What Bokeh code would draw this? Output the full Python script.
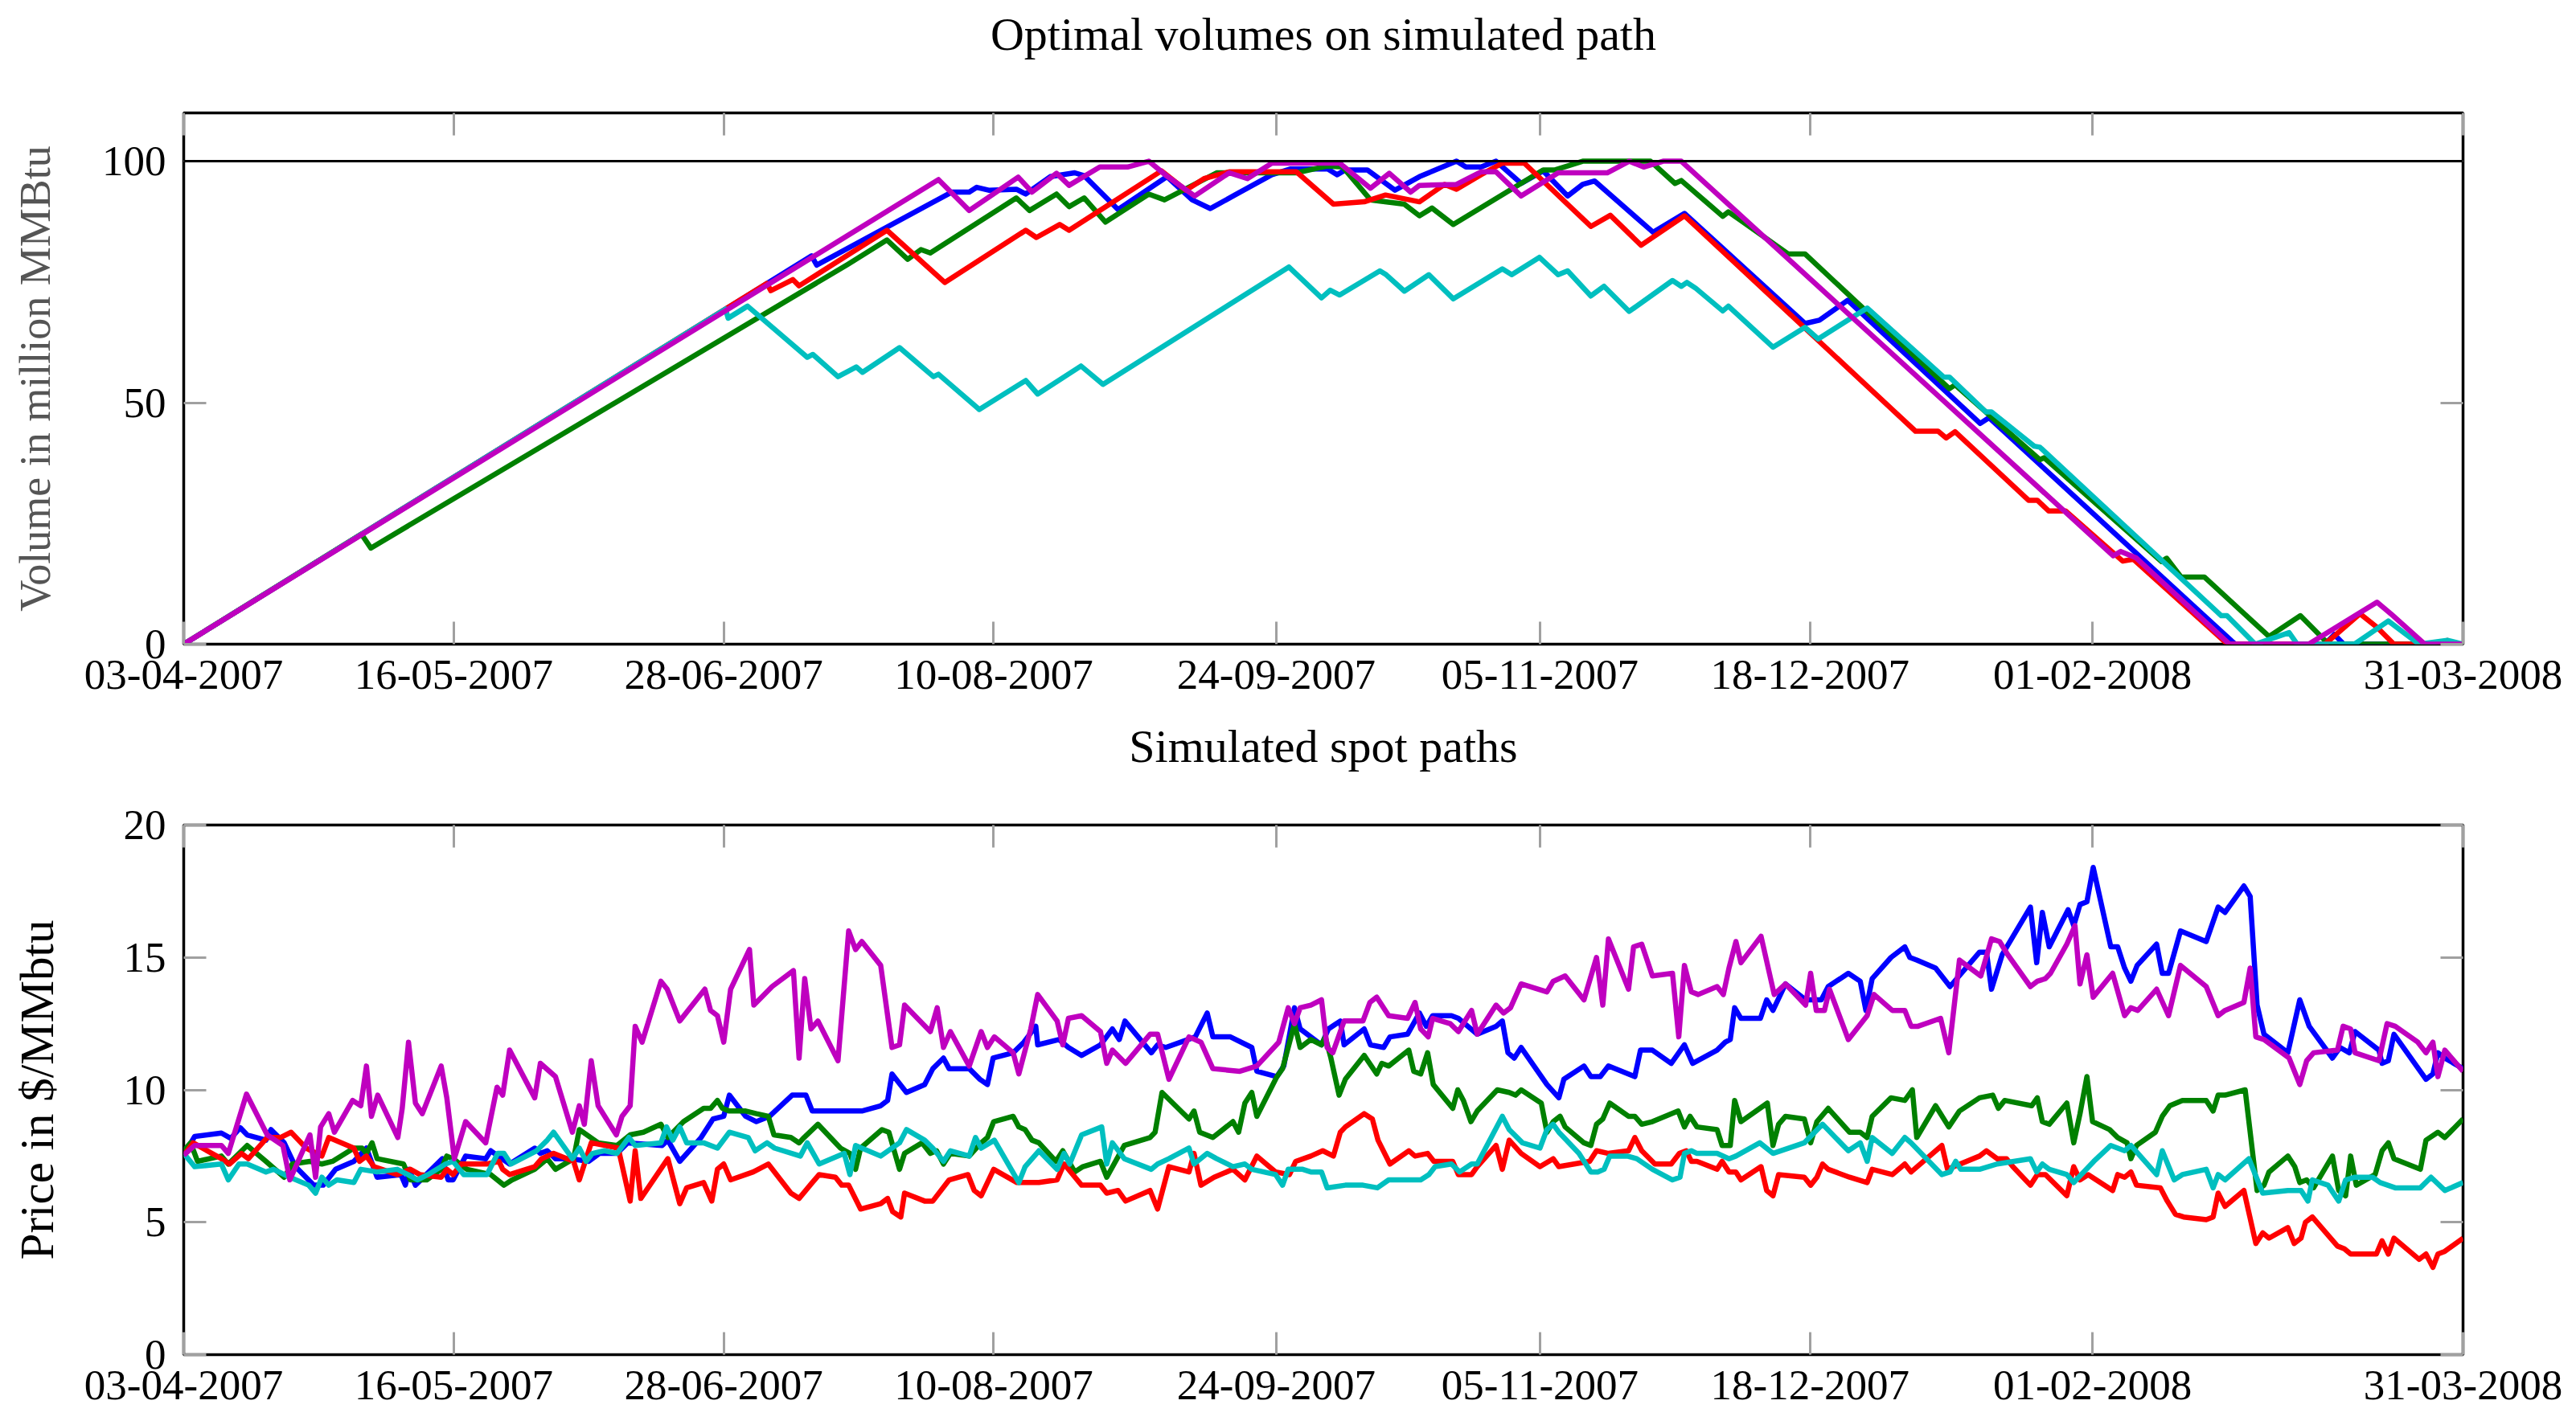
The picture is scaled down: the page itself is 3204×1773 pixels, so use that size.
import datetime as dt
from bokeh.plotting import figure
from bokeh.layouts import column
from bokeh.models import (FixedTicker, DatetimeTickFormatter, Range1d, Span, DatetimeAxis, LinearAxis,
                          CustomLabelingPolicy)
from bokeh.embed import file_html
from bokeh.resources import INLINE

# ---------------- data ----------------
START = dt.datetime(2007, 4, 3)
END = dt.datetime(2008, 3, 31)
x_tick_labels = ["03-04-2007", "16-05-2007", "28-06-2007", "10-08-2007", "24-09-2007",
                 "05-11-2007", "18-12-2007", "01-02-2008", "31-03-2008"]
vol_ticks = [0, 50, 100]
price_ticks = [0, 5, 10, 15, 20]
capacity = 100

# (days since 03-04-2007, volume in million MMBtu)
vol_blue = [(0, 0), (100.0, 80.4), (100.8, 78.5), (122.3, 93.6), (125.1, 93.6), (126.3, 94.6), (128.2, 94.0),
            (132.6, 94.2), (134.1, 93.2), (138.0, 96.8), (141.9, 97.6), (143.4, 97.0), (148.8, 90.0), (156.6, 96.8),
            (160.6, 92.0), (163.5, 90.2), (167.4, 93.0), (173.3, 97.2), (176.3, 98.4), (182.2, 98.4), (183.7, 97.2),
            (185.0, 98.2), (188.5, 98.2), (192.9, 94.0), (196.8, 96.8), (202.7, 100.0), (204.2, 98.8), (206.6, 98.8),
            (209.0, 100.0), (213.0, 95.4), (216.5, 98.0), (220.4, 92.8), (222.8, 95.2), (224.7, 95.9), (234.0, 85.3),
            (239.0, 89.2), (258.2, 66.4), (260.5, 67.1), (265.0, 71.2), (286.1, 45.7), (287.5, 46.9), (326.7, 0),
            (341.0, 0), (342.5, 2.0), (344.0, 0), (363.0, 0)]
vol_green = [(0, 0), (28.3, 22.8), (29.8, 19.9), (105.7, 78.6), (112.0, 83.7), (115.3, 79.7), (117.4, 81.7),
             (118.9, 81.0), (132.6, 92.4), (134.7, 89.8), (139.0, 93.2), (141.0, 90.6), (143.4, 92.4), (146.8, 87.4),
             (153.7, 93.2), (156.2, 92.0), (164.5, 97.6), (177.2, 97.6), (182.1, 99.0), (184.6, 98.8), (189.0, 92.0),
             (194.4, 91.1), (196.8, 88.7), (198.8, 90.3), (202.2, 86.9), (216.5, 98.2), (218.4, 98.2), (222.8, 100.0),
             (233.6, 100.0), (237.5, 95.4), (238.5, 96.0), (245.1, 88.6), (246.0, 89.5), (247.8, 87.9), (255.5, 80.8),
             (258.2, 80.8), (281.2, 52.9), (282.1, 53.7), (295.6, 38.2), (296.3, 38.6), (315.0, 17.1), (315.8, 17.8),
             (318.1, 13.9), (321.8, 13.9), (332.1, 1.6), (337.1, 5.9), (341.6, 0), (363.0, 0)]
vol_red = [(0, 0), (92.9, 74.7), (93.5, 73.2), (97.0, 75.5), (98.0, 74.2), (112.0, 85.7), (121.2, 74.9),
           (134.1, 85.7), (135.8, 84.2), (139.5, 86.9), (141.0, 85.7), (155.7, 98.0), (159.6, 94.0), (162.5, 96.4),
           (166.5, 97.8), (177.2, 97.8), (183.1, 91.1), (188.0, 91.6), (191.4, 93.0), (196.8, 91.6), (200.8, 95.2),
           (202.7, 94.2), (206.6, 97.2), (210.0, 99.6), (213.5, 99.6), (224.1, 86.5), (227.2, 88.8), (232.1, 82.6),
           (239.0, 88.7), (275.8, 44.1), (279.4, 44.1), (280.7, 42.7), (282.1, 44.0), (293.8, 29.8), (295.2, 29.8),
           (297.0, 27.6), (299.7, 27.6), (308.8, 17.2), (310.5, 17.6), (325.5, 0), (341.0, 0), (346.6, 6.3),
           (349.3, 3.5), (352.0, 0), (359.5, 0), (360.5, 0.8), (361.5, 0), (363.0, 0)]
vol_cyan = [(0, 0), (86.3, 69.4), (86.7, 67.5), (89.8, 70.0), (99.3, 59.4), (100.2, 60.0), (104.2, 55.4),
            (107.1, 57.4), (108.1, 56.3), (114.0, 61.4), (119.4, 55.4), (120.2, 55.9), (126.7, 48.6), (134.1, 54.6),
            (136.0, 51.8), (142.9, 57.6), (146.4, 53.8), (176.0, 78.1), (181.2, 71.7), (182.6, 73.3), (184.1, 72.3),
            (190.5, 77.3), (191.5, 76.5), (194.4, 73.1), (198.3, 76.5), (202.2, 71.5), (210.0, 77.7), (211.5, 76.5),
            (215.9, 80.1), (218.9, 76.5), (220.4, 77.3), (224.1, 72.1), (226.2, 74.1), (230.2, 68.9), (237.1, 75.3),
            (238.5, 74.1), (239.4, 74.9), (240.8, 73.7), (245.1, 69.0), (246.0, 70.0), (253.1, 61.5), (258.2, 65.6),
            (260.3, 63.2), (268.1, 69.6), (280.3, 55.3), (281.2, 55.3), (287.0, 48.1), (287.9, 48.1), (294.7, 41.0),
            (295.6, 40.8), (324.5, 5.9), (325.4, 5.9), (329.9, 0), (335.3, 2.4), (336.6, 0), (345.7, 0),
            (351.1, 4.8), (356.0, 0), (360.5, 0.8), (363.0, 0)]
vol_magenta = [(0, 0), (120.2, 96.2), (125.1, 89.8), (132.9, 96.7), (135.1, 93.6), (139.0, 97.5), (141.0, 95.0),
               (145.9, 98.8), (150.3, 98.8), (153.7, 100.0), (156.5, 97.0), (161.0, 92.8), (166.5, 97.6),
               (169.4, 96.4), (173.3, 99.6), (184.1, 99.6), (189.0, 94.4), (192.0, 97.5), (195.4, 93.6),
               (196.8, 95.0), (202.7, 95.2), (206.6, 97.8), (209.0, 97.8), (213.0, 92.8), (218.9, 97.6),
               (226.7, 97.6), (230.2, 100.0), (232.5, 98.8), (235.6, 100.0), (238.5, 100.0), (307.3, 18.3),
               (308.5, 19.2), (310.9, 17.9), (325.8, 0), (338.4, 0), (349.3, 8.7), (351.5, 6.3), (356.9, 0),
               (363.0, 0)]

# (days since 03-04-2007, spot price in $/MMbtu)
spot_blue = [(0, 7.53), (1.75, 8.24), (6.0, 8.37), (7.5, 8.17), (9.0, 8.57), (10.1, 8.3), (13.1, 8.1), (13.9, 8.5),
             (16.0, 8.0), (17.8, 7.1), (20.7, 6.4), (22.2, 6.4), (24.2, 7.0), (27.1, 7.3), (29.1, 7.8), (30.8, 6.7),
             (34.6, 6.8), (35.3, 6.4), (35.9, 7.0), (36.9, 6.4), (41.2, 7.4), (42.1, 6.6), (42.9, 6.6), (44.9, 7.5),
             (48.1, 7.4), (48.9, 7.7), (51.9, 7.2), (55.9, 7.8), (56.8, 7.6), (57.9, 7.7), (59.2, 7.4), (61.7, 7.4),
             (64.5, 7.3), (66.2, 7.6), (69.0, 7.6), (70.7, 8.0), (76.2, 7.9), (77.1, 8.1), (79.0, 7.3), (82.4, 8.2),
             (84.3, 8.9), (86.0, 9.0), (86.9, 9.8), (89.5, 9.0), (91.2, 8.8), (93.3, 9.0), (96.9, 9.8), (99.1, 9.8),
             (100.1, 9.2), (104.0, 9.2), (108.0, 9.2), (111.0, 9.4), (112.1, 9.6), (112.8, 10.6), (115.1, 9.9),
             (118.0, 10.2), (119.3, 10.8), (121.0, 11.2), (121.9, 10.8), (125.1, 10.8), (126.8, 10.4), (128.0, 10.2),
             (128.9, 11.2), (132.1, 11.4), (133.8, 11.8), (135.7, 12.4), (136.0, 11.7), (139.4, 11.9), (140.9, 11.6),
             (143.0, 11.3), (146.0, 11.7), (147.9, 12.3), (149.0, 11.9), (149.9, 12.6), (154.1, 11.4), (155.1, 11.7),
             (156.4, 11.6), (161.1, 12.0), (163.0, 12.9), (163.9, 12.0), (166.7, 12.0), (170.1, 11.6), (170.9, 10.7),
             (174.1, 10.5), (175.2, 10.9), (176.9, 13.1), (177.8, 12.3), (179.5, 12.0), (181.2, 11.7), (182.3, 12.3),
             (184.2, 12.6), (184.8, 11.7), (188.0, 12.3), (189.0, 11.7), (191.1, 11.6), (192.1, 12.0), (194.9, 12.1),
             (196.8, 12.9), (197.9, 12.4), (198.9, 12.8), (201.9, 12.8), (203.0, 12.7), (206.0, 12.1), (209.0, 12.4),
             (210.0, 12.6), (210.9, 11.4), (211.9, 11.2), (213.0, 11.6), (217.1, 10.2), (219.0, 9.7), (219.8, 10.4),
             (223.0, 10.9), (224.1, 10.5), (225.6, 10.5), (226.9, 10.9), (231.1, 10.5), (232.0, 11.5), (233.9, 11.5),
             (236.9, 11.0), (239.0, 11.7), (240.3, 11.0), (244.2, 11.5), (245.5, 11.8), (246.3, 11.9), (247.0, 13.1),
             (248.0, 12.7), (251.1, 12.7), (252.1, 13.4), (253.1, 13.0), (255.1, 14.0), (258.3, 13.4), (260.8, 13.4),
             (261.9, 13.9), (265.1, 14.4), (267.0, 14.1), (267.9, 13.0), (268.9, 14.2), (271.9, 15.0), (274.1, 15.4),
             (274.9, 15.0), (276.0, 14.9), (279.0, 14.6), (281.3, 13.9), (286.0, 15.2), (287.1, 15.2), (287.9, 13.8),
             (289.6, 15.1), (294.1, 16.9), (295.1, 14.8), (296.0, 16.7), (297.1, 15.4), (300.1, 16.8), (301.0, 16.2),
             (302.0, 17.0), (303.1, 17.1), (304.1, 18.4), (306.9, 15.4), (308.0, 15.4), (309.1, 14.6), (310.1, 14.1),
             (311.1, 14.7), (314.2, 15.5), (315.1, 14.4), (316.1, 14.4), (318.0, 16.0), (322.1, 15.6), (324.0, 16.9),
             (325.1, 16.7), (328.1, 17.7), (329.1, 17.3), (330.2, 13.2), (331.3, 12.1), (335.1, 11.4), (337.0, 13.4),
             (338.5, 12.4), (342.2, 11.2), (343.4, 11.6), (344.9, 11.4), (345.8, 12.2), (349.6, 11.5), (350.1, 11.0),
             (351.1, 11.1), (352.0, 12.1), (357.1, 10.4), (358.2, 10.6), (359.0, 11.4), (360.1, 11.2), (363.0, 10.8)]
spot_green = [(0, 7.7), (1.1, 8.0), (2.2, 7.3), (6.0, 7.5), (7.1, 7.2), (10.1, 7.9), (13.1, 7.3), (16.0, 6.7),
              (17.3, 7.2), (20.1, 7.3), (22.0, 7.2), (23.7, 7.3), (27.1, 7.8), (28.4, 7.8), (29.1, 7.6), (30.0, 8.0),
              (30.8, 7.4), (35.0, 7.2), (36.1, 6.6), (38.7, 6.6), (41.0, 7.0), (41.9, 7.5), (42.9, 7.4), (45.1, 7.0),
              (48.9, 6.8), (51.0, 6.4), (52.3, 6.6), (55.9, 7.0), (57.9, 7.4), (59.2, 7.0), (62.1, 7.4), (63.0, 8.5),
              (66.0, 8.0), (69.0, 7.9), (71.1, 8.3), (73.2, 8.4), (76.0, 8.7), (77.1, 8.2), (79.6, 8.8), (82.8, 9.3),
              (83.9, 9.3), (85.0, 9.6), (85.8, 9.3), (86.9, 9.2), (89.5, 9.2), (91.2, 9.1), (93.1, 9.0), (94.0, 8.3),
              (96.7, 8.2), (98.0, 8.0), (98.8, 8.2), (101.0, 8.7), (104.6, 7.8), (106.1, 7.6), (107.0, 7.0),
              (107.8, 7.8), (111.2, 8.5), (112.3, 8.4), (114.0, 7.0), (114.8, 7.6), (117.6, 8.0), (118.9, 7.6),
              (119.9, 7.7), (121.0, 7.2), (122.1, 7.6), (125.1, 7.5), (127.0, 8.0), (128.0, 8.2), (129.0, 8.8),
              (132.1, 9.0), (133.0, 8.6), (134.0, 8.5), (135.1, 8.1), (136.2, 8.0), (138.9, 7.3), (140.0, 7.7),
              (141.9, 6.9), (143.2, 7.1), (146.0, 7.3), (147.0, 6.7), (149.8, 7.9), (153.9, 8.2), (154.7, 8.4),
              (155.8, 9.9), (160.1, 8.9), (160.9, 9.2), (161.8, 8.4), (163.9, 8.2), (167.1, 8.8), (168.0, 8.4),
              (169.0, 9.5), (170.1, 9.9), (170.9, 9.0), (174.1, 10.5), (175.0, 10.8), (176.9, 12.5), (177.8, 11.6),
              (179.5, 11.9), (181.2, 11.7), (181.8, 12.0), (182.7, 11.2), (184.0, 9.8), (185.0, 10.4), (188.0, 11.3),
              (190.0, 10.6), (190.8, 11.0), (191.9, 10.9), (195.1, 11.5), (195.9, 10.7), (197.0, 10.6), (198.1, 11.4),
              (199.0, 10.2), (202.1, 9.3), (202.9, 10.0), (203.8, 9.6), (205.0, 8.8), (206.0, 9.2), (209.2, 10.0),
              (211.1, 9.9), (212.1, 9.8), (213.0, 10.0), (216.2, 9.5), (217.1, 8.4), (218.1, 8.8), (219.2, 9.0),
              (220.0, 8.6), (223.0, 8.0), (224.1, 7.9), (225.0, 8.7), (226.0, 8.9), (227.1, 9.5), (230.1, 9.0),
              (231.1, 9.0), (232.2, 8.7), (233.9, 8.8), (238.0, 9.2), (239.0, 8.6), (239.9, 9.0), (241.0, 8.6),
              (244.2, 8.5), (245.0, 7.9), (246.3, 7.9), (247.0, 9.6), (248.0, 8.8), (252.2, 9.5), (253.1, 7.9),
              (254.0, 8.7), (255.1, 9.0), (258.1, 8.9), (259.1, 8.0), (260.1, 8.8), (261.9, 9.3), (265.3, 8.4),
              (267.0, 8.4), (268.1, 8.2), (268.9, 9.0), (271.9, 9.7), (274.1, 9.6), (275.3, 10.0), (276.0, 8.2),
              (279.0, 9.4), (281.1, 8.6), (282.8, 9.2), (286.0, 9.7), (288.1, 9.8), (289.0, 9.3), (290.0, 9.6),
              (294.3, 9.4), (295.2, 9.7), (296.0, 8.8), (297.1, 8.7), (299.9, 9.5), (301.0, 8.0), (302.0, 9.1),
              (303.1, 10.5), (304.0, 8.8), (306.7, 8.5), (308.0, 8.2), (309.5, 8.0), (310.1, 7.4), (311.0, 7.9),
              (314.0, 8.4), (315.1, 9.0), (316.3, 9.4), (318.3, 9.6), (322.1, 9.6), (323.2, 9.2), (324.0, 9.8),
              (325.1, 9.8), (328.3, 10.0), (330.2, 6.2), (331.3, 6.4), (332.1, 6.9), (335.1, 7.5), (336.2, 7.1),
              (337.0, 6.5), (338.1, 6.6), (339.2, 6.3), (342.2, 7.5), (343.2, 6.2), (344.3, 6.0), (345.1, 7.5),
              (346.0, 6.4), (349.0, 6.8), (350.1, 7.7), (351.1, 8.0), (352.0, 7.4), (356.2, 7.0), (357.1, 8.1),
              (359.0, 8.4), (360.1, 8.2), (363.0, 8.9)]
spot_red = [(0, 7.53), (1.5, 8.0), (6.0, 7.4), (7.3, 7.2), (9.2, 7.6), (10.3, 7.4), (13.3, 8.2), (15.4, 8.2),
            (17.1, 8.4), (19.5, 7.8), (22.0, 7.5), (23.1, 8.2), (27.1, 7.8), (28.0, 7.3), (29.1, 7.5), (30.3, 7.1),
            (34.0, 6.8), (36.1, 7.0), (37.6, 6.8), (41.0, 6.7), (41.9, 7.0), (42.9, 6.8), (44.2, 7.2), (48.3, 7.2),
            (50.2, 7.3), (50.8, 7.0), (51.9, 6.8), (55.9, 7.1), (57.0, 7.4), (58.9, 7.6), (62.1, 7.3), (63.0, 6.6),
            (64.9, 8.0), (69.2, 7.8), (71.1, 5.8), (71.9, 7.7), (72.8, 5.9), (77.1, 7.4), (79.0, 5.7), (80.1, 6.3),
            (82.8, 6.5), (84.1, 5.8), (85.0, 7.0), (86.0, 7.2), (87.1, 6.6), (90.7, 6.9), (93.1, 7.2), (96.7, 6.1),
            (98.0, 5.9), (100.1, 6.5), (101.2, 6.8), (103.8, 6.7), (104.8, 6.4), (105.9, 6.4), (107.8, 5.5),
            (111.0, 5.7), (112.1, 5.9), (112.9, 5.4), (114.2, 5.2), (114.8, 6.1), (118.0, 5.8), (119.3, 5.8),
            (121.9, 6.6), (124.9, 6.8), (125.9, 6.2), (127.0, 6.0), (129.0, 7.0), (132.7, 6.5), (136.2, 6.5),
            (139.1, 6.6), (140.2, 7.2), (143.0, 6.4), (146.0, 6.4), (147.0, 6.1), (148.8, 6.2), (150.0, 5.8),
            (153.9, 6.2), (155.1, 5.5), (156.9, 7.1), (160.1, 6.9), (160.9, 7.6), (162.0, 6.4), (164.1, 6.7),
            (167.1, 7.0), (169.0, 6.6), (170.9, 7.5), (173.9, 6.9), (176.1, 6.8), (177.1, 7.3), (179.5, 7.5),
            (181.4, 7.7), (183.1, 7.5), (184.2, 8.4), (185.0, 8.6), (188.0, 9.1), (189.3, 8.9), (190.2, 8.1),
            (192.1, 7.2), (195.1, 7.7), (196.1, 7.5), (198.1, 7.6), (199.1, 7.3), (202.1, 7.3), (203.0, 6.8),
            (205.1, 6.8), (206.0, 7.1), (209.0, 7.9), (210.0, 7.0), (211.1, 8.1), (213.0, 7.6), (216.0, 7.1),
            (218.1, 7.4), (219.0, 7.1), (223.9, 7.3), (225.0, 7.7), (226.9, 7.6), (230.1, 7.7), (231.1, 8.2),
            (232.2, 7.7), (234.3, 7.2), (236.9, 7.2), (238.2, 7.6), (239.3, 7.7), (240.1, 7.3), (241.0, 7.3),
            (244.2, 7.0), (245.0, 7.3), (246.1, 6.9), (247.2, 6.9), (248.0, 6.6), (251.2, 7.1), (252.1, 6.2),
            (253.1, 6.0), (254.0, 6.8), (258.1, 6.7), (259.1, 6.4), (260.1, 6.7), (261.0, 7.2), (261.9, 7.0),
            (265.3, 6.7), (268.1, 6.5), (268.9, 7.0), (272.1, 6.8), (274.1, 7.2), (275.1, 6.9), (280.0, 7.9),
            (280.9, 7.0), (286.0, 7.5), (287.1, 7.7), (288.8, 7.4), (290.3, 7.4), (291.3, 7.1), (294.1, 6.4),
            (295.2, 6.8), (296.5, 6.8), (299.9, 6.0), (301.0, 7.1), (302.0, 6.6), (303.3, 6.8), (307.2, 6.2),
            (308.0, 6.8), (309.1, 6.7), (310.1, 6.9), (311.0, 6.4), (314.8, 6.3), (315.9, 5.8), (317.2, 5.3),
            (318.5, 5.2), (322.1, 5.1), (323.2, 5.2), (324.0, 6.1), (325.1, 5.6), (328.1, 6.2), (330.0, 4.2),
            (331.1, 4.6), (332.1, 4.4), (335.1, 4.8), (336.1, 4.2), (337.2, 4.4), (337.9, 5.0), (339.0, 5.2),
            (343.0, 4.1), (344.1, 4.0), (345.1, 3.8), (349.2, 3.8), (350.1, 4.3), (351.1, 3.8), (352.0, 4.4),
            (356.0, 3.6), (357.1, 3.8), (358.2, 3.3), (359.0, 3.8), (360.1, 3.9), (363.0, 4.4)]
spot_cyan = [(0, 7.6), (1.75, 7.1), (6.0, 7.2), (7.1, 6.6), (8.8, 7.2), (10.1, 7.2), (13.1, 6.9), (14.3, 7.0),
             (16.9, 6.7), (19.9, 6.4), (21.0, 6.1), (22.0, 6.7), (23.1, 6.4), (24.4, 6.6), (27.1, 6.5), (28.2, 7.0),
             (30.8, 6.9), (34.0, 7.0), (35.7, 6.8), (37.2, 6.6), (38.9, 6.8), (41.7, 7.2), (42.9, 7.3), (44.6, 6.8),
             (48.3, 6.8), (50.0, 7.6), (51.0, 7.6), (52.1, 7.2), (56.2, 7.7), (57.9, 8.1), (58.9, 8.4), (61.9, 7.4),
             (63.0, 7.8), (64.1, 7.3), (65.1, 7.6), (67.0, 7.7), (69.0, 7.6), (70.9, 8.2), (71.9, 7.9), (76.0, 8.0),
             (76.9, 8.6), (77.9, 8.1), (79.0, 8.6), (80.1, 8.0), (82.8, 8.0), (85.0, 7.8), (86.9, 8.4), (89.9, 8.2),
             (91.0, 7.7), (92.9, 8.0), (94.1, 7.8), (98.2, 7.5), (99.3, 8.0), (101.2, 7.2), (105.2, 7.6),
             (106.1, 6.8), (107.0, 7.9), (111.0, 7.5), (114.0, 8.0), (115.1, 8.5), (118.0, 8.1), (119.3, 7.8),
             (121.0, 7.3), (122.1, 7.7), (125.1, 7.5), (126.1, 8.2), (127.0, 7.8), (129.1, 8.1), (133.0, 6.5),
             (134.0, 7.1), (136.2, 7.7), (139.1, 7.0), (140.2, 7.6), (141.1, 7.2), (143.0, 8.3), (146.2, 8.6),
             (147.0, 7.2), (147.9, 8.0), (149.8, 7.4), (154.1, 7.0), (155.1, 7.2), (156.9, 7.4), (160.1, 7.8),
             (160.9, 7.2), (163.0, 7.6), (164.5, 7.4), (167.1, 7.1), (169.0, 7.2), (170.1, 7.0), (173.9, 6.8),
             (175.0, 6.4), (175.9, 7.0), (178.2, 7.0), (179.5, 6.9), (181.2, 6.9), (182.1, 6.3), (185.0, 6.4),
             (187.8, 6.4), (190.1, 6.3), (191.9, 6.6), (197.0, 6.6), (198.3, 6.8), (199.3, 7.1), (201.9, 7.2),
             (203.2, 6.9), (205.1, 7.2), (206.0, 7.2), (210.0, 9.0), (211.1, 8.5), (213.2, 8.0), (216.0, 7.8),
             (217.1, 8.5), (218.1, 8.7), (219.0, 8.4), (219.8, 8.2), (222.2, 7.6), (224.1, 6.9), (225.2, 6.9),
             (226.2, 7.0), (227.1, 7.5), (229.9, 7.5), (231.4, 7.4), (233.9, 7.0), (237.1, 6.6), (238.3, 6.7),
             (239.0, 7.6), (240.1, 7.7), (241.0, 7.6), (244.2, 7.6), (246.1, 7.4), (247.2, 7.5), (251.0, 8.0),
             (253.1, 7.6), (258.1, 8.0), (261.0, 8.7), (265.1, 7.7), (267.0, 8.0), (268.1, 7.3), (268.9, 8.2),
             (272.1, 7.6), (274.1, 8.2), (275.1, 8.0), (280.0, 6.8), (281.3, 6.9), (282.2, 7.3), (283.0, 7.0),
             (286.0, 7.0), (288.8, 7.2), (294.1, 7.4), (295.1, 6.9), (296.0, 7.2), (297.1, 7.0), (299.9, 6.8),
             (301.0, 6.5), (304.2, 7.3), (306.9, 7.9), (309.1, 7.7), (310.1, 7.9), (314.2, 6.8), (315.1, 7.7),
             (317.0, 6.6), (318.3, 6.8), (322.1, 7.0), (323.2, 6.3), (324.0, 6.8), (325.1, 6.6), (328.9, 7.4),
             (331.1, 6.1), (335.1, 6.2), (337.2, 6.2), (338.3, 5.8), (339.0, 6.6), (341.5, 6.4), (343.2, 5.8),
             (344.3, 6.6), (345.8, 6.7), (348.6, 6.7), (349.8, 6.5), (352.2, 6.3), (356.2, 6.3), (357.9, 6.7),
             (360.1, 6.2), (363.0, 6.5)]
spot_magenta = [(0, 7.53), (1.75, 7.9), (6.0, 7.9), (7.1, 7.6), (10.0, 9.84), (13.3, 8.3), (15.8, 7.9),
                (16.9, 6.6), (20.1, 8.3), (21.0, 6.7), (21.8, 8.6), (23.1, 9.1), (24.0, 8.4), (26.9, 9.6), (28.2, 9.4),
                (29.1, 10.9), (29.9, 9.0), (30.9, 9.8), (34.1, 8.2), (34.8, 9.3), (35.8, 11.8), (36.9, 9.5),
                (38.0, 9.1), (41.0, 10.9), (41.9, 9.7), (43.1, 7.4), (44.9, 8.8), (48.1, 8.0), (49.9, 10.1),
                (50.8, 9.8), (51.9, 11.5), (55.9, 9.7), (56.8, 11.0), (59.2, 10.5), (61.9, 8.4), (63.0, 9.4),
                (63.8, 8.7), (64.9, 11.1), (66.0, 9.4), (68.9, 8.3), (69.8, 9.0), (71.1, 9.4), (71.9, 12.4),
                (73.0, 11.8), (76.0, 14.1), (77.0, 13.8), (79.0, 12.6), (83.0, 13.8), (83.9, 13.0), (85.0, 12.8),
                (86.0, 11.8), (87.1, 13.8), (90.1, 15.3), (90.8, 13.2), (93.7, 13.9), (97.1, 14.5), (98.0, 11.2),
                (98.9, 14.2), (99.9, 12.3), (101.0, 12.6), (104.2, 11.1), (105.9, 16.0), (107.0, 15.3),
                (108.0, 15.6), (111.0, 14.7), (112.8, 11.6), (114.0, 11.7), (114.8, 13.2), (118.9, 12.2),
                (120.0, 13.1), (121.0, 11.6), (122.1, 12.2), (125.1, 10.9), (127.0, 12.2), (128.0, 11.6),
                (129.1, 12.0), (132.1, 11.4), (133.0, 10.6), (134.9, 12.3), (136.0, 13.6), (139.1, 12.6),
                (140.0, 11.7), (140.9, 12.7), (143.0, 12.8), (146.0, 12.2), (147.0, 11.0), (147.9, 11.5),
                (150.0, 11.0), (153.9, 12.1), (155.1, 12.1), (156.9, 10.4), (160.1, 12.0), (162.0, 11.8),
                (163.9, 10.8), (168.2, 10.7), (170.9, 10.9), (174.4, 11.8), (175.9, 13.1), (176.9, 12.5),
                (177.8, 13.1), (179.5, 13.2), (181.2, 13.4), (182.1, 11.6), (183.0, 11.4), (184.8, 12.6),
                (187.8, 12.6), (188.9, 13.3), (190.0, 13.5), (191.9, 12.8), (194.9, 12.7), (196.1, 13.3),
                (197.0, 12.3), (198.2, 12.0), (198.9, 12.7), (201.7, 12.5), (203.0, 12.2), (205.1, 13.0),
                (206.0, 12.1), (209.0, 13.2), (210.2, 12.9), (211.3, 13.1), (213.0, 14.0), (217.1, 13.7),
                (218.1, 14.1), (220.0, 14.3), (223.0, 13.4), (225.0, 15.0), (226.0, 13.2), (226.9, 15.7),
                (230.1, 13.8), (230.9, 15.4), (232.2, 15.5), (233.9, 14.3), (237.1, 14.4), (238.1, 12.0),
                (239.0, 14.7), (240.1, 13.7), (241.2, 13.6), (244.2, 13.9), (245.2, 13.6), (246.1, 14.6),
                (247.2, 15.6), (248.0, 14.8), (251.2, 15.8), (253.3, 13.6), (255.1, 14.0), (258.3, 13.2),
                (259.1, 14.4), (260.0, 13.0), (261.3, 13.0), (262.1, 13.8), (265.1, 11.9), (268.1, 12.8),
                (269.2, 13.6), (272.1, 13.0), (274.1, 13.0), (275.1, 12.4), (276.2, 12.4), (279.8, 12.7),
                (281.1, 11.4), (282.8, 14.9), (286.2, 14.3), (287.9, 15.7), (289.2, 15.6), (290.5, 15.1),
                (294.1, 13.9), (295.2, 14.1), (296.5, 14.2), (297.3, 14.4), (299.9, 15.5), (301.2, 16.2),
                (302.0, 14.0), (303.1, 15.1), (304.1, 13.5), (307.2, 14.4), (309.1, 12.8), (310.1, 13.1),
                (311.2, 13.0), (314.2, 13.8), (316.1, 12.8), (318.0, 14.7), (322.1, 13.9), (324.0, 12.8),
                (325.1, 13.0), (328.1, 13.3), (329.1, 14.6), (330.0, 12.0), (331.3, 11.9), (335.3, 11.2),
                (337.0, 10.2), (338.1, 11.1), (339.2, 11.4), (343.0, 11.5), (343.9, 12.4), (345.1, 12.3),
                (345.8, 11.4), (349.6, 11.1), (350.9, 12.5), (352.2, 12.4), (355.8, 11.8), (357.1, 11.4),
                (358.2, 11.8), (359.0, 10.5), (360.1, 11.5), (363.0, 10.7)]

# ---------------- styling ----------------
COLORS = {"blue": "#0000ff", "green": "#008000", "red": "#ff0000", "cyan": "#00bfbf", "magenta": "#bf00bf"}
FONT = "Liberation Serif"
TICK_FS = "53px"
TICK_COLOR = "#a0a0a0"
LINE_W = 6.5
PAGE_W = 3188

EPOCH = dt.datetime(1970, 1, 1)
tick_ms = [(dt.datetime.strptime(s, "%d-%m-%Y") - EPOCH).total_seconds() * 1000 for s in x_tick_labels]
FMT = "%d-%m-%Y"


def date_formatter():
    return DatetimeTickFormatter(microseconds=FMT, milliseconds=FMT, seconds=FMT, minsec=FMT, minutes=FMT,
                                 hourmin=FMT, hours=FMT, days=FMT, months=FMT, years=FMT)


def no_labels():
    # mirror axes: keep the tick marks, draw no tick labels
    return CustomLabelingPolicy(code="const n = indices.size; for (let i = 0; i < n; i++) indices.unset(i); return indices;")


def make_fig(title, height, border_top, border_bottom, y_max, y_ticks, y_label, y_label_size, y_label_color,
             y_label_standoff):
    p = figure(width=PAGE_W, height=height, x_axis_type="datetime", output_backend="svg", toolbar_location=None,
               x_range=Range1d(START, END), y_range=Range1d(0, y_max),
               min_border_left=228, min_border_right=125, min_border_top=border_top,
               min_border_bottom=border_bottom)
    p.background_fill_color = "white"
    p.border_fill_color = "white"
    p.outline_line_color = "black"
    p.outline_line_width = 3.5
    p.grid.visible = False

    xa = p.xaxis[0]
    xa.ticker = FixedTicker(ticks=tick_ms)
    xa.formatter = date_formatter()
    ya = p.yaxis[0]
    ya.ticker = FixedTicker(ticks=y_ticks)
    ya.axis_label = y_label
    ya.axis_label_text_font = FONT
    ya.axis_label_text_font_size = y_label_size
    ya.axis_label_text_font_style = "normal"
    ya.axis_label_text_color = y_label_color
    ya.axis_label_standoff = y_label_standoff

    for ax in (xa, ya):
        ax.axis_line_color = None
        ax.major_tick_in = 28
        ax.major_tick_out = 0
        ax.major_tick_line_color = TICK_COLOR
        ax.major_tick_line_width = 3
        ax.minor_tick_line_color = None
        ax.major_label_text_font = FONT
        ax.major_label_text_font_size = TICK_FS
        ax.major_label_text_color = "black"
    xa.major_label_standoff = 20
    ya.major_label_standoff = 22

    top_ax = DatetimeAxis(ticker=FixedTicker(ticks=tick_ms), formatter=date_formatter())
    right_ax = LinearAxis(ticker=FixedTicker(ticks=y_ticks))
    for ax in (top_ax, right_ax):
        ax.axis_line_color = None
        ax.major_tick_in = 28
        ax.major_tick_out = 0
        ax.major_tick_line_color = TICK_COLOR
        ax.major_tick_line_width = 3
        ax.minor_tick_line_color = None
        ax.major_label_text_font_size = "1px"
        ax.major_label_standoff = 0
        ax.major_label_policy = no_labels()
    # the chart title sits centred above the frame
    top_ax.axis_label = title
    top_ax.axis_label_text_font = FONT
    top_ax.axis_label_text_font_size = "58px"
    top_ax.axis_label_text_font_style = "normal"
    top_ax.axis_label_text_color = "black"
    top_ax.axis_label_standoff = 62
    p.add_layout(top_ax, "above")
    p.add_layout(right_ax, "right")
    return p


def draw(p, series):
    for name, pairs in series:
        days = [d for d, _ in pairs]
        vals = [v for _, v in pairs]
        xs = [START + dt.timedelta(days=d) for d in days]
        p.line(xs, vals, line_color=COLORS[name], line_width=LINE_W, line_join="round")


p1 = make_fig("Optimal volumes on simulated path", 885, 140, 84, 110, vol_ticks,
              "Volume in million MMBtu", "54px", "#555555", 50)
p1.add_layout(Span(location=capacity, dimension="width", line_color="black", line_width=3))
draw(p1, [("blue", vol_blue), ("green", vol_green), ("red", vol_red), ("cyan", vol_cyan),
          ("magenta", vol_magenta)])

p2 = make_fig("Simulated spot paths", 882, 141, 82, 20, price_ticks,
              "Price in $/MMbtu", "59px", "black", 72)
draw(p2, [("blue", spot_blue), ("green", spot_green), ("red", spot_red), ("cyan", spot_cyan),
          ("magenta", spot_magenta)])

layout = column(p1, p2, spacing=0)
open("out.html", "w").write(file_html(layout, INLINE))
